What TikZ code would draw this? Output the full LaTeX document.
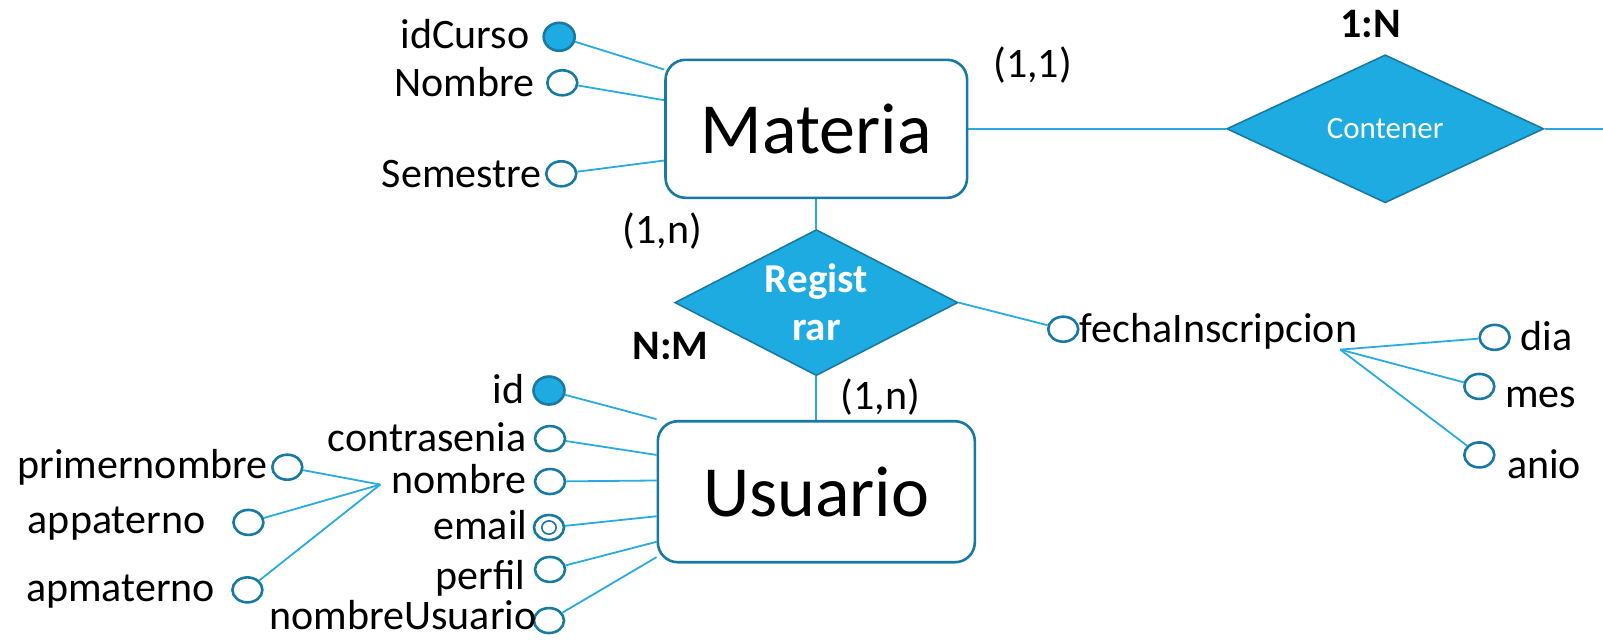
\documentclass[tikz,border=0pt]{standalone}
\usepackage{fontspec}
\setmainfont{Carlito}
\usetikzlibrary{shapes.geometric,backgrounds}
\definecolor{erfill}{RGB}{30,171,226}
\definecolor{erborder}{RGB}{24,122,163}
\definecolor{erline}{RGB}{41,171,226}

\begin{document}
\begin{tikzpicture}[x=1.0223pt,y=-1.0223pt,
  entity/.style={draw=erborder, line width=2.6pt, rounded corners=20pt, fill=white,
    inner sep=0pt, font=\fontsize{72}{86}\selectfont},
  relation/.style={diamond, draw=erborder, line width=1.6pt, fill=erfill, inner sep=0pt},
  reltext/.style={text=white, align=center, inner sep=0pt},
  attr/.style={ellipse, draw=erborder, line width=2.6pt, minimum width=30pt, minimum height=25pt,
    inner sep=0pt, fill=white},
  keyattr/.style={attr, fill=erfill, minimum width=31pt, minimum height=28pt},
  lbl/.style={font=\fontsize{42}{50}\selectfont, inner sep=0pt},
  attrlbl/.style={lbl, text height=27pt, text depth=0pt},
  boldlbl/.style={lbl, font=\fontsize{42}{50}\selectfont\bfseries},
  link/.style={draw=erline, line width=1.8pt},
]
\useasboundingbox (0,0) rectangle (1568,626);

% entities
\node[entity, minimum width=301.6pt, minimum height=138pt] (materia) at (798.5,126) {Materia};
\node[entity, minimum width=317pt, minimum height=141pt] (usuario) at (798.5,481) {Usuario};

% relationships
\node[relation, minimum width=317pt, minimum height=148pt] (contener) at (1355,126) {};
\node[reltext, font=\fontsize{31}{37}\selectfont] at (contener) {Contener};
\node[relation, minimum width=283pt, minimum height=146pt] (registrar) at (798.5,296) {};
\node[reltext, font=\fontsize{41}{48}\selectfont\bfseries] at (registrar) {Regist\\rar};

% cardinalities
\node[lbl] at (1010,64) {(1,1)};
\node[boldlbl] at (1341,23) {1:N};
\node[lbl] at (648,226) {(1,n)};
\node[boldlbl] at (656,338) {N:M};
\node[lbl] at (861,388) {(1,n)};

% attributes of Materia
\node[keyattr] (idcurso) at (547,36) {};
\node[attrlbl, anchor=east] at (518,34) {idCurso};
\node[attr] (mnombre) at (550,81) {};
\node[attrlbl, anchor=east] at (523,81) {Nombre};
\node[attr] (semestre) at (549,170) {};
\node[attrlbl, anchor=east] at (530,170) {Semestre};

% attribute of Registrar and its parts
\node[attr] (fecha) at (1040,322) {};
\node[attrlbl, anchor=west] at (1056,322) {fechaInscripcion};
\coordinate (fj) at (1311,342);
\node[attr] (dia) at (1462,330) {};
\node[attrlbl, anchor=west] at (1487,330) {dia};
\node[attr] (mes) at (1447,378) {};
\node[attrlbl, anchor=west] at (1472,385) {mes};
\node[attr] (anio) at (1447,445) {};
\node[attrlbl, anchor=west] at (1474,455) {anio};

% attributes of Usuario
\node[keyattr] (uid) at (537,382) {};
\node[attrlbl, anchor=east] at (513,381) {id};
\node[attr] (contra) at (538,429) {};
\node[attrlbl, anchor=east] at (515,428) {contrasenia};
\node[attr] (unombre) at (538,471) {};
\node[attrlbl, anchor=east] at (515,470) {nombre};
\node[attr] (email) at (537,516) {};
\draw[erborder, line width=1.6pt] (email) ellipse[x radius=7, y radius=6.5];
\node[attrlbl, anchor=east] at (516,515) {email};
\node[attr] (perfil) at (538,557) {};
\node[attrlbl, anchor=east] at (514,563) {perfil};
\node[attr] (nusuario) at (537,607) {};
\node[attrlbl, anchor=east] at (525,603) {nombreUsuario};

% parts of nombre
\coordinate (nj) at (372,474);
\node[attr] (primer) at (281,457) {};
\node[attrlbl, anchor=east] at (262,455) {primernombre};
\node[attr] (pat) at (243,511) {};
\node[attrlbl] at (114,509) {appaterno};
\node[attr] (mat) at (242,577) {};
\node[attrlbl] at (118,575) {apmaterno};

\coordinate (rightedge) at (1568,126);

\begin{scope}[on background layer]
  \draw[link] (materia.east) -- (contener.west);
  \draw[link] (contener.east) -- (rightedge);
  \draw[link] (materia.south) -- (registrar.north);
  \draw[link] (registrar.south) -- (usuario.north);
  \draw[link] (registrar.east) -- (fecha);
  \draw[link] (fj) -- (dia);
  \draw[link] (fj) -- (mes);
  \draw[link] (fj) -- (anio);
  \draw[link] (idcurso) -- (materia.west |- 0,68);
  \draw[link] (mnombre) -- (materia.west |- 0,98);
  \draw[link] (semestre) -- (materia.west |- 0,157);
  \draw[link] (uid) -- (usuario.west |- 0,410);
  \draw[link] (contra) -- (usuario.west |- 0,445);
  \draw[link] (unombre) -- (usuario.west |- 0,470);
  \draw[link] (email) -- (usuario.west |- 0,505);
  \draw[link] (perfil) -- (usuario.west |- 0,530);
  \draw[link] (nusuario) -- (usuario.west |- 0,545);
  \draw[link] (primer) -- (nj);
  \draw[link] (pat) -- (nj);
  \draw[link] (mat) -- (nj);
\end{scope}
\end{tikzpicture}
\end{document}
